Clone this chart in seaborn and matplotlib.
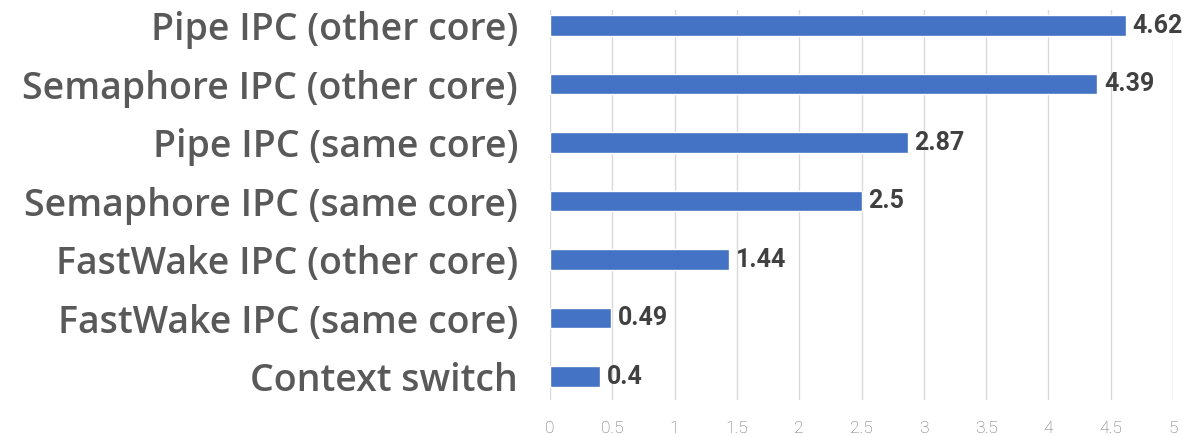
import matplotlib
matplotlib.use('Agg')
import matplotlib.pyplot as plt
import seaborn as sns
import pandas as pd
from matplotlib.ticker import FuncFormatter, MultipleLocator

# Dados
tarefas = ['Pipe IPC (other core)', 'Semaphore IPC (other core)',
           'Pipe IPC (same core)', 'Semaphore IPC (same core)',
           'FastWake IPC (other core)', 'FastWake IPC (same core)',
           'Context switch']
tempos = [4.62, 4.39, 2.87, 2.5, 1.44, 0.49, 0.4]

df = pd.DataFrame({'Tarefa': tarefas, 'Tempo': tempos})

sns.set_style('white')
plt.rcParams['font.family'] = ['Open Sans', 'DejaVu Sans']

fig = plt.figure(figsize=(11.97, 4.36), dpi=100)
ax = fig.add_axes([550 / 1197, 1 - 400 / 436, 623 / 1197, 390 / 436])

sns.barplot(data=df, x='Tempo', y='Tarefa', color='#4472C4', width=0.35,
            saturation=1, ax=ax, zorder=3)

ax.set_xlim(0, 5)
ax.set_ylim(6.40, -0.265)
ax.xaxis.set_major_locator(MultipleLocator(0.5))
ax.xaxis.set_major_formatter(FuncFormatter(lambda v, p: f'{v:g}'))
ax.grid(axis='x', color='#D9D9D9', linewidth=1, zorder=0)
ax.grid(axis='y', visible=False)
for s in ax.spines.values():
    s.set_visible(False)
ax.tick_params(length=0)
ax.tick_params(axis='x', pad=15, labelsize=12.5, labelcolor='#6E6E6E')
ax.tick_params(axis='y', pad=23)
for t in ax.get_xticklabels():
    t.set_family('Roboto')
    t.set_fontweight('light')
for t in ax.get_yticklabels():
    t.set_fontsize(27)
    t.set_fontweight(600)
    t.set_color('#595959')
ax.set_xlabel('')
ax.set_ylabel('')

rotulos = ax.bar_label(ax.containers[0], fmt='%g', padding=5,
                       fontsize=18, fontweight='bold', color='#404040')
for r in rotulos:
    r.set_family('Roboto')

fig.savefig('out.png', dpi=100)
